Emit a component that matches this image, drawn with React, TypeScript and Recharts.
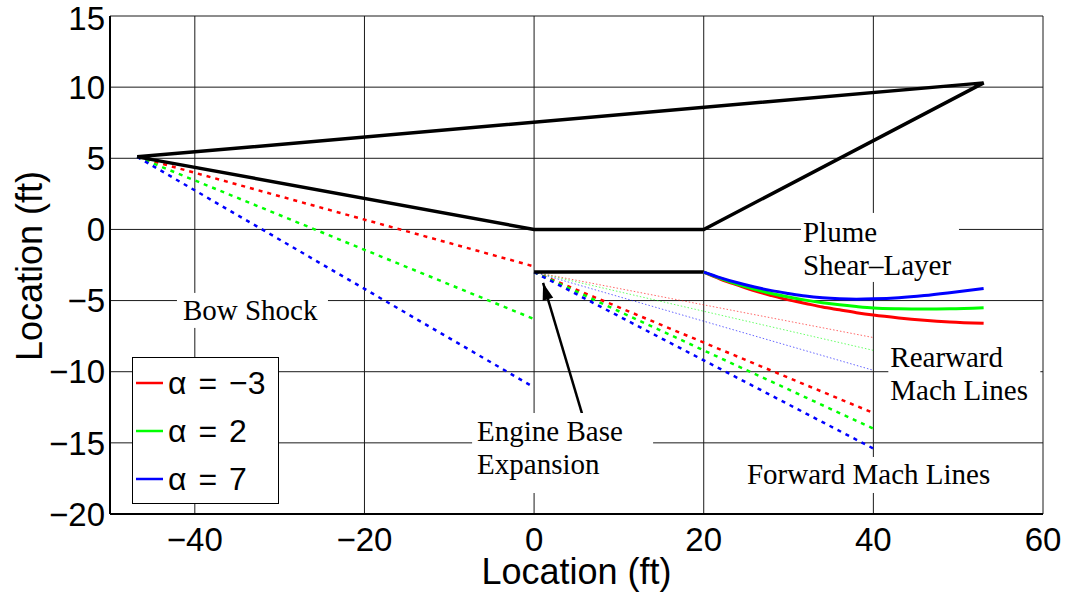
import React from "react";
import {
  LineChart,
  Line,
  XAxis,
  YAxis,
  CartesianGrid,
  ReferenceDot,
  Legend,
} from "recharts";

// axis ticks
const X_TICKS = [-40, -20, 0, 20, 40, 60];
const Y_TICKS = [-20, -15, -10, -5, 0, 5, 10, 15];

// vehicle outline (ft)
const bodyOutline = [
  { x: -46.8, y: 5.1 },
  { x: 0, y: 0 },
  { x: 20, y: 0 },
  { x: 53, y: 10.3 },
  { x: -46.8, y: 5.1 },
];
const engineBase = [
  { x: 0, y: -3 },
  { x: 20, y: -3 },
];

// bow shock
const bowShockM3 = [{ x: -46.8, y: 5.1 }, { x: 0, y: -2.6 }];
const bowShock2 = [{ x: -46.8, y: 5.1 }, { x: 0, y: -6.3 }];
const bowShock7 = [{ x: -46.8, y: 5.1 }, { x: 0, y: -11.1 }];

// forward mach lines
const fwdMachM3 = [{ x: 0, y: -3 }, { x: 40, y: -12.9 }];
const fwdMach2 = [{ x: 0, y: -3 }, { x: 40, y: -14.0 }];
const fwdMach7 = [{ x: 0, y: -3 }, { x: 40, y: -15.4 }];

// rearward mach lines
const rearMachM3 = [{ x: 0, y: -3 }, { x: 40, y: -7.6 }];
const rearMach2 = [{ x: 0, y: -3 }, { x: 40, y: -8.5 }];
const rearMach7 = [{ x: 0, y: -3 }, { x: 40, y: -9.9 }];

// plume shear layer
const plumeX = [20, 22, 24, 26, 28, 30, 32, 34, 36, 38, 40, 43, 46, 49, 53];
const plumeM3 = [-3.0, -3.5, -3.92, -4.32, -4.65, -4.95, -5.2, -5.45, -5.65, -5.85, -6.02, -6.22, -6.38, -6.5, -6.6];
const plume2 = [-3.0, -3.45, -3.85, -4.2, -4.5, -4.75, -4.97, -5.15, -5.3, -5.42, -5.52, -5.58, -5.6, -5.58, -5.5];
const plume7 = [-3.0, -3.4, -3.75, -4.05, -4.3, -4.5, -4.68, -4.8, -4.87, -4.9, -4.88, -4.8, -4.65, -4.45, -4.15];

// arrow: tail -> head
const arrowPts = [{ x: 5.8, y: -13.25 }, { x: 1.06, y: -3.76 }];

const legendNames = ["α = −3", "α = 2", "α = 7"];
const RED = "#ff0000";
const GREEN = "#00ff00";
const BLUE = "#0000ff";

// text annotations: left edge / first baseline in data units, box in px
const annotations = [
  { lines: ["Bow Shock"], x: -41.4, y: -6.36, padL: 6, w: 151, padT: 27, h: 35 },
  { lines: ["Plume", "Shear–Layer"], x: 31.7, y: -0.88, padL: 2, w: 158, padT: 29, h: 69 },
  { lines: ["Rearward", "Mach Lines"], x: 42.0, y: -9.67, padL: 2, w: 152, padT: 29, h: 70 },
  { lines: ["Engine Base", "Expansion"], x: -6.72, y: -14.87, padL: 5, w: 181, padT: 28, h: 80 },
  { lines: ["Forward Mach Lines"], x: 25.1, y: -17.89, padL: 7, w: 260, padT: 27, h: 36 },
];

const toXY = (xs: number[], ys: number[]) => xs.map((x, i) => ({ x, y: ys[i] }));

const SANS = "'Liberation Sans', Arial, Helvetica, sans-serif";
const SERIF = "'Liberation Serif', 'Times New Roman', serif";

const fmt = (v: number) => (v < 0 ? "−" + Math.abs(v) : String(v));

function ArrowDot(props: any) {
  const { index, points, cx, cy } = props;
  if (index !== 1 || !points || !points[0]) return <g key={"ad" + index} />;
  const p0 = points[0];
  const ang = Math.atan2(cy - p0.y, cx - p0.x);
  const len = 17;
  const hw = 5.5;
  const bx = cx - len * Math.cos(ang);
  const by = cy - len * Math.sin(ang);
  const nx = -Math.sin(ang) * hw;
  const ny = Math.cos(ang) * hw;
  return (
    <polygon
      key={"ad" + index}
      points={`${cx},${cy} ${bx + nx},${by + ny} ${bx - nx},${by - ny}`}
      fill="#000"
    />
  );
}

function AnnotationBox(props: any) {
  const { cx, cy, a } = props;
  if (cx == null || cy == null) return <g />;
  return (
    <g>
      <rect x={cx - a.padL} y={cy - a.padT} width={a.w} height={a.h} fill="#fff" />
      {a.lines.map((t: string, i: number) => (
        <text
          key={t}
          x={cx}
          y={cy + i * 33}
          fontFamily={SERIF}
          fontSize={29}
          fill="#000"
        >
          {t}
        </text>
      ))}
    </g>
  );
}

function LegendBox(props: any) {
  const colorByName: Record<string, string> = {};
  (props.payload || []).forEach((p: any) => {
    colorByName[p.value] = p.color;
  });
  return (
    <div
      style={{
        width: 147,
        height: 147,
        boxSizing: "border-box",
        border: "1px solid #000",
        background: "#fff",
        paddingTop: 1,
      }}
    >
      {legendNames
        .filter((n) => colorByName[n])
        .map((n) => (
          <div key={n} style={{ display: "flex", alignItems: "center", height: 48 }}>
            <svg width={32} height={6} style={{ marginLeft: 3 }}>
              <line x1={0} y1={3} x2={27} y2={3} stroke={colorByName[n]} strokeWidth={2.5} />
            </svg>
            <span style={{ fontFamily: SANS, fontSize: 32, color: "#000", wordSpacing: 3, lineHeight: 1 }}>
              {n}
            </span>
          </div>
        ))}
    </div>
  );
}

export default function App() {
  return (
    <div style={{ position: "absolute", left: 0, top: 0, background: "#fff" }}>
      <LineChart width={1069} height={594} margin={{ top: 16, right: 26, left: 0, bottom: 0 }}>
        <CartesianGrid stroke="#1a1a1a" strokeWidth={1} />
        <XAxis
          type="number"
          dataKey="x"
          domain={[-50, 60]}
          ticks={X_TICKS}
          allowDataOverflow
          tickFormatter={fmt}
          tick={{ fontSize: 33, fill: "#000", fontFamily: SANS }}
          tickLine={false}
          tickSize={8}
          tickMargin={6}
          axisLine={{ stroke: "#000", strokeWidth: 2 }}
          height={80}
          label={{
            content: (p: any) => {
              const vb = p.viewBox || { x: 110, width: 933 };
              return (
                <text x={vb.x + vb.width / 2} y={584} textAnchor="middle" fontFamily={SANS} fontSize={36} fill="#000">
                  Location (ft)
                </text>
              );
            },
          }}
        />
        <YAxis
          type="number"
          dataKey="y"
          domain={[-20, 15]}
          ticks={Y_TICKS}
          allowDataOverflow
          tickFormatter={fmt}
          tick={{ fontSize: 33, fill: "#000", fontFamily: SANS }}
          tickLine={false}
          tickSize={3}
          tickMargin={2}
          axisLine={{ stroke: "#000", strokeWidth: 2 }}
          width={110}
          label={{
            content: () => (
              <text
                transform="translate(42,266) rotate(-90)"
                textAnchor="middle"
                fontFamily={SANS}
                fontSize={36}
                fill="#000"
              >
                Location (ft)
              </text>
            ),
          }}
        />

        {annotations.map((a) => (
          <ReferenceDot
            key={a.lines[0]}
            x={a.x}
            y={a.y}
            r={0}
            ifOverflow="visible"
            shape={(p: any) => <AnnotationBox {...p} a={a} />}
          />
        ))}

        {/* rearward mach lines */}
        <Line data={rearMachM3} dataKey="y" stroke={RED} strokeWidth={1} strokeDasharray="1.5 2" strokeOpacity={0.6} dot={false} activeDot={false} legendType="none" isAnimationActive={false} />
        <Line data={rearMach2} dataKey="y" stroke={GREEN} strokeWidth={1} strokeDasharray="1.5 2" strokeOpacity={0.6} dot={false} activeDot={false} legendType="none" isAnimationActive={false} />
        <Line data={rearMach7} dataKey="y" stroke={BLUE} strokeWidth={1} strokeDasharray="1.5 2" strokeOpacity={0.6} dot={false} activeDot={false} legendType="none" isAnimationActive={false} />

        {/* bow shock */}
        <Line data={bowShockM3} dataKey="y" stroke={RED} strokeWidth={2.5} strokeDasharray="4 5" dot={false} activeDot={false} legendType="none" isAnimationActive={false} />
        <Line data={bowShock2} dataKey="y" stroke={GREEN} strokeWidth={2.5} strokeDasharray="4 5" dot={false} activeDot={false} legendType="none" isAnimationActive={false} />
        <Line data={bowShock7} dataKey="y" stroke={BLUE} strokeWidth={2.5} strokeDasharray="4 5" dot={false} activeDot={false} legendType="none" isAnimationActive={false} />

        {/* forward mach lines */}
        <Line data={fwdMachM3} dataKey="y" stroke={RED} strokeWidth={2.5} strokeDasharray="4 5" dot={false} activeDot={false} legendType="none" isAnimationActive={false} />
        <Line data={fwdMach2} dataKey="y" stroke={GREEN} strokeWidth={2.5} strokeDasharray="4 5" dot={false} activeDot={false} legendType="none" isAnimationActive={false} />
        <Line data={fwdMach7} dataKey="y" stroke={BLUE} strokeWidth={2.5} strokeDasharray="4 5" dot={false} activeDot={false} legendType="none" isAnimationActive={false} />

        {/* body */}
        <Line data={bodyOutline} dataKey="y" stroke="#000" strokeWidth={3.5} dot={false} activeDot={false} legendType="none" isAnimationActive={false} />
        <Line data={engineBase} dataKey="y" stroke="#000" strokeWidth={3.5} dot={false} activeDot={false} legendType="none" isAnimationActive={false} />

        {/* plume shear layer */}
        <Line data={toXY(plumeX, plumeM3)} dataKey="y" name={legendNames[0]} type="monotone" stroke={RED} strokeWidth={3} dot={false} activeDot={false} isAnimationActive={false} />
        <Line data={toXY(plumeX, plume2)} dataKey="y" name={legendNames[1]} type="monotone" stroke={GREEN} strokeWidth={3} dot={false} activeDot={false} isAnimationActive={false} />
        <Line data={toXY(plumeX, plume7)} dataKey="y" name={legendNames[2]} type="monotone" stroke={BLUE} strokeWidth={3} dot={false} activeDot={false} isAnimationActive={false} />

        {/* annotation arrow */}
        <Line data={arrowPts} dataKey="y" stroke="#000" strokeWidth={2.5} dot={ArrowDot} activeDot={false} legendType="none" isAnimationActive={false} />

        <Legend
          layout="vertical"
          align="center"
          verticalAlign="middle"
          content={LegendBox}
          wrapperStyle={{ position: "absolute", left: 132, top: 357, width: 147, height: 147 }}
        />
      </LineChart>
    </div>
  );
}
